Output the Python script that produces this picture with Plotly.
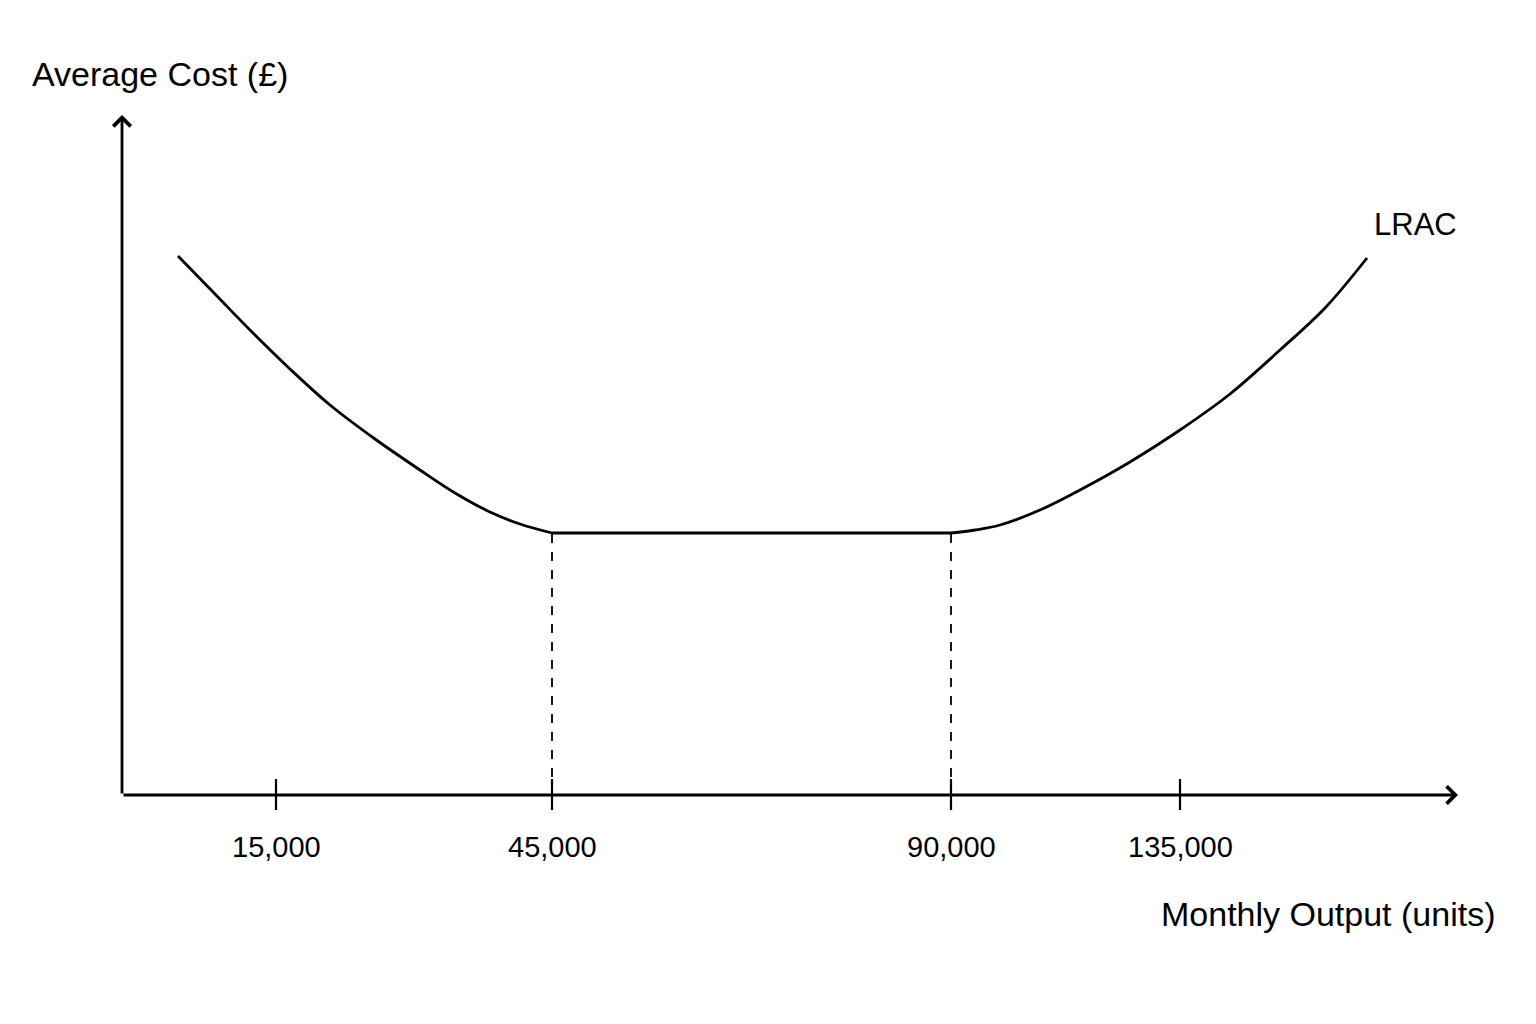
import plotly.graph_objects as go

# schematic coordinates (axis units)
left_x = [178, 215, 250, 290, 330, 375, 420, 455, 490, 520, 552]
left_y = [768, 730, 694, 655, 619, 585, 554, 531, 512, 500, 491]
right_x = [951, 975, 1000, 1040, 1080, 1130, 1180, 1230, 1280, 1325, 1367]
right_y = [491, 494, 499, 514, 534, 562, 594, 630, 674, 716, 766]
tick_pos = [276, 552, 951, 1180]
tick_labels = ["15,000", "45,000", "90,000", "135,000"]
dashed_pos = [552, 951]
min_cost = 491
axis_y0 = 229

fig = go.Figure()
line = dict(color="black", width=2.8, shape="spline")
fig.add_trace(go.Scatter(x=left_x, y=left_y, mode="lines", line=line))
fig.add_trace(go.Scatter(x=[dashed_pos[0], dashed_pos[1]], y=[min_cost, min_cost], mode="lines", line=dict(color="black", width=2.8)))
fig.add_trace(go.Scatter(x=right_x, y=right_y, mode="lines", line=line))
for p in dashed_pos:
    fig.add_trace(go.Scatter(x=[p, p], y=[axis_y0, min_cost], mode="lines", line=dict(color="black", width=1.8, dash="dash")))
for p in tick_pos:
    fig.add_trace(go.Scatter(x=[p, p], y=[axis_y0 - 15, axis_y0 + 16], mode="lines", line=dict(color="black", width=2.2)))

ann = []
ann.append(dict(x=1458, y=axis_y0, ax=122, ay=axis_y0, xref="x", yref="y", axref="x", ayref="y", showarrow=True, arrowhead=4, arrowsize=1.2, arrowwidth=2.8, arrowcolor="black", text=""))
ann.append(dict(x=122, y=909, ax=122, ay=axis_y0, xref="x", yref="y", axref="x", ayref="y", showarrow=True, arrowhead=4, arrowsize=1.2, arrowwidth=2.8, arrowcolor="black", text=""))
for p, t in zip(tick_pos, tick_labels):
    ann.append(dict(x=p, y=177, xref="x", yref="y", text=t, showarrow=False, font=dict(size=29)))
ann.append(dict(x=1497, y=110, xref="x", yref="y", text="Monthly Output (units)", showarrow=False, xanchor="right", font=dict(size=34)))
ann.append(dict(x=30, y=950, xref="x", yref="y", text="Average Cost (£)", showarrow=False, xanchor="left", font=dict(size=34)))
ann.append(dict(x=1372, y=800, xref="x", yref="y", text="LRAC", showarrow=False, xanchor="left", font=dict(size=31)))

fig.update_layout(
    width=1536, height=1024, showlegend=False, plot_bgcolor="white", paper_bgcolor="white",
    margin=dict(l=0, r=0, t=0, b=0),
    xaxis=dict(range=[8, 1544], visible=False, fixedrange=True),
    yaxis=dict(range=[-8, 1016], visible=False, fixedrange=True),
    font=dict(family="Liberation Sans, Arial", color="black"),
    annotations=ann,
)
fig.write_html("out.html")
